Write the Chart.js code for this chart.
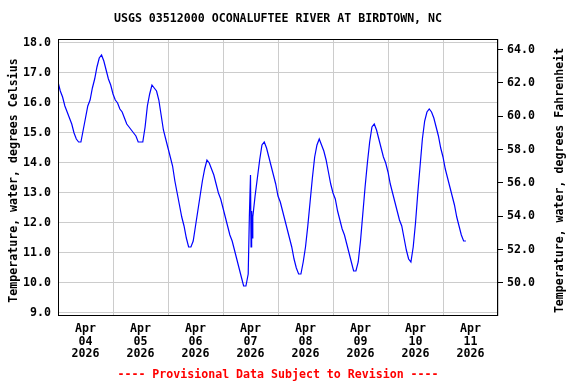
<!DOCTYPE html>
<html>
<head>
<meta charset="utf-8">
<script src="https://cdn.jsdelivr.net/npm/chart.js@4.4.1/dist/chart.umd.min.js"></script>
<style>
html,body{margin:0;padding:0;background:#fff;}
canvas{display:block;}
</style>
</head>
<body>
<canvas id="c" width="576" height="384"></canvas>
<script>
// ---- data ----
const chartTitle = 'USGS 03512000 OCONALUFTEE RIVER AT BIRDTOWN, NC';
const footerText = '---- Provisional Data Subject to Revision ----';
const leftTitle = 'Temperature, water, degrees Celsius';
const rightTitle = 'Temperature, water, degrees Fahrenheit';
const dayLabels = ['04','05','06','07','08','09','10','11'];
const monthLabel = 'Apr';
const yearLabel = '2026';
const celsiusTicks = [9,10,11,12,13,14,15,16,17,18];
const fahrenheitTicks = [50,52,54,56,58,60,62,64];
// hours since Apr 04 2026 00:00
const hours = [
  0,1,2,3,4,5,6,7,8,9,10,11,12,13,14,15,16,17,18,19,20,21,22,23,
  24,25,26,27,28,29,30,31,32,33,34,35,36,37,38,39,40,41,42,43,44,45,46,47,
  48,49,50,51,52,53,54,55,56,57,58,59,60,61,62,63,64,65,66,67,68,69,70,71,
  72,73,74,75,76,77,78,79,80,81,82,83,83.5,84,84.25,84.5,84.75,85,86,87,88,89,90,91,92,93,94,95,
  96,97,98,99,100,101,102,103,104,105,106,107,108,109,110,111,112,113,114,115,116,117,118,119,
  120,121,122,123,124,125,126,127,128,129,130,131,132,133,134,135,136,137,138,139,140,141,142,143,
  144,145,146,147,148,149,150,151,152,153,154,155,156,157,158,159,160,161,162,163,164,165,166,167,
  168,169,170,171,172,173,174,175,176,177,178
];
const tempC = [
  16.7,16.4,16.2,15.9,15.7,15.5,15.3,15.0,14.8,14.7,14.7,15.1,15.5,15.9,16.1,16.5,16.8,17.2,17.5,17.6,17.4,17.1,16.8,16.6,
  16.3,16.1,16.0,15.8,15.7,15.5,15.3,15.2,15.1,15.0,14.9,14.7,14.7,14.7,15.2,15.9,16.3,16.6,16.5,16.4,16.1,15.6,15.1,14.8,
  14.5,14.2,13.9,13.4,13.0,12.6,12.2,11.9,11.5,11.2,11.2,11.4,11.9,12.4,12.9,13.4,13.8,14.1,14.0,13.8,13.6,13.3,13.0,12.8,
  12.5,12.2,11.9,11.6,11.4,11.1,10.8,10.5,10.2,9.9,9.9,10.3,12.2,13.6,11.2,12.4,11.5,12.2,12.9,13.5,14.1,14.6,14.7,14.5,14.2,13.9,13.6,13.3,
  12.9,12.7,12.4,12.1,11.8,11.5,11.2,10.8,10.5,10.3,10.3,10.7,11.2,11.9,12.7,13.5,14.2,14.6,14.8,14.6,14.4,14.1,13.7,13.3,
  13.0,12.8,12.4,12.1,11.8,11.6,11.3,11.0,10.7,10.4,10.4,10.7,11.4,12.3,13.2,14.0,14.7,15.2,15.3,15.1,14.8,14.5,14.2,14.0,
  13.7,13.3,13.0,12.7,12.4,12.1,11.9,11.5,11.1,10.8,10.7,11.2,12.0,13.0,13.9,14.8,15.4,15.7,15.8,15.7,15.5,15.2,14.9,14.5,
  14.2,13.8,13.5,13.2,12.9,12.6,12.2,11.9,11.6,11.4,11.4
];

// ---- style ----
const FONT = '"DejaVu Sans Mono", "Liberation Mono", monospace';
const FS = 11.6;
const cMin = 8.9, cMax = 18.1333;
const toF = c => c * 9 / 5 + 32;

const points = hours.map((h, i) => ({x: h, y: tempC[i]}));

const decorPlugin = {
  id: 'decor',
  afterDraw(chart) {
    const ctx = chart.ctx;
    const a = chart.chartArea;
    ctx.save();
    ctx.strokeStyle = '#000';
    ctx.lineWidth = 1;
    ctx.strokeRect(Math.round(a.left) + 0.5, Math.round(a.top) + 0.5,
                   Math.round(a.right - a.left) - 1, Math.round(a.bottom - a.top) - 1);
    ctx.fillStyle = '#000';
    ctx.font = 'bold ' + FS + 'px ' + FONT;
    ctx.textAlign = 'center';
    ctx.textBaseline = 'middle';
    ctx.fillText(chartTitle, (a.left + a.right) / 2, 19);
    const midY = (a.top + a.bottom) / 2 + 3;
    ctx.save();
    ctx.translate(14, midY);
    ctx.rotate(-Math.PI / 2);
    ctx.fillText(leftTitle, 0, 0);
    ctx.restore();
    ctx.save();
    ctx.translate(560, midY);
    ctx.rotate(-Math.PI / 2);
    ctx.fillText(rightTitle, 0, 0);
    ctx.restore();
    ctx.fillStyle = '#ff0000';
    ctx.fillText(footerText, (a.left + a.right) / 2, 375);
    ctx.restore();
  }
};

new Chart(document.getElementById('c'), {
  type: 'line',
  data: {
    datasets: [{
      data: points,
      borderColor: '#0000ff',
      borderWidth: 1.2,
      pointRadius: 0,
      tension: 0,
      fill: false
    }]
  },
  options: {
    responsive: false,
    animation: false,
    layout: {padding: {top: 39, left: 0, right: 0, bottom: 0}},
    plugins: {legend: {display: false}, tooltip: {enabled: false}, title: {display: false}},
    scales: {
      x: {
        type: 'linear',
        min: 0, max: 192,
        afterBuildTicks: s => { const t = []; for (let v = 0; v <= 192; v += 12) t.push({value: v}); s.ticks = t; },
        afterFit: s => { s.height = 68; },
        grid: {
          color: ctx => (ctx.tick && ctx.tick.value % 24 === 0) ? '#cccccc' : 'rgba(0,0,0,0)',
          lineWidth: 1,
          drawTicks: false
        },
        border: {display: false},
        ticks: {
          autoSkip: false,
          maxRotation: 0,
          padding: 6,
          color: '#000',
          font: {family: FONT, size: FS, weight: 'bold', lineHeight: 1.12},
          callback: v => (v % 24 === 12) ? [monthLabel, dayLabels[(v - 12) / 24], yearLabel] : ''
        }
      },
      y: {
        position: 'left',
        min: cMin, max: cMax,
        afterBuildTicks: s => { s.ticks = celsiusTicks.map(v => ({value: v})); },
        afterFit: s => { s.width = 58; },
        grid: {color: '#cccccc', lineWidth: 1, drawTicks: false},
        border: {display: false},
        ticks: {
          padding: 7,
          color: '#000',
          font: {family: FONT, size: FS, weight: 'bold'},
          callback: v => v.toFixed(1)
        }
      },
      yF: {
        position: 'right',
        min: toF(cMin), max: toF(cMax),
        afterBuildTicks: s => { s.ticks = fahrenheitTicks.map(v => ({value: v})); },
        afterFit: s => { s.width = 78; },
        grid: {drawOnChartArea: false, drawTicks: true, tickLength: 5, color: '#000', lineWidth: 1},
        border: {display: false},
        ticks: {
          padding: 4,
          color: '#000',
          font: {family: FONT, size: FS, weight: 'bold'},
          callback: v => v.toFixed(1)
        }
      }
    }
  },
  plugins: [decorPlugin]
});
</script>
</body>
</html>
